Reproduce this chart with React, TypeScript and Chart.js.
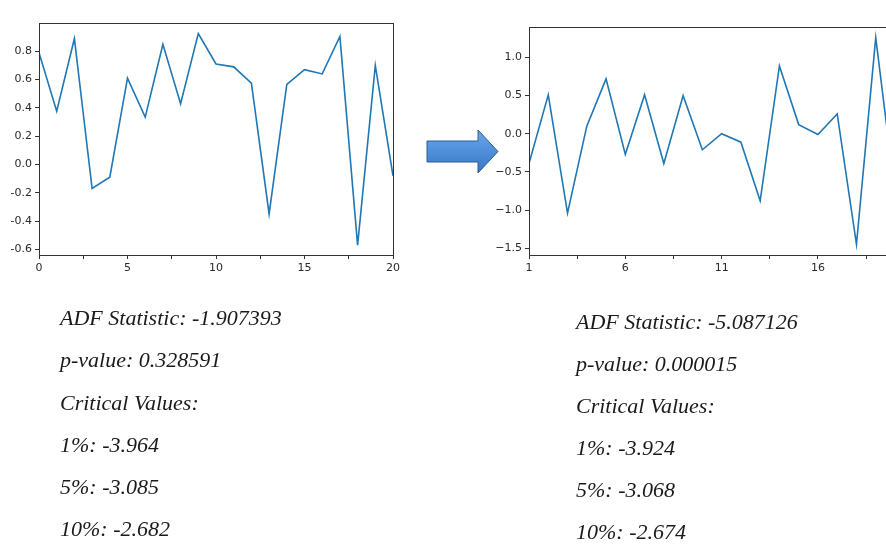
import React, { useEffect, useRef } from "react";
import { Chart, registerables } from "chart.js";

Chart.register(...registerables);

// ---- Data ----
const leftX = [0, 1, 2, 3, 4, 5, 6, 7, 8, 9, 10, 11, 12, 13, 14, 15, 16, 17, 18, 19, 20];
const leftY = [0.79, 0.377, 0.89, -0.17, -0.09, 0.61, 0.335, 0.85, 0.43, 0.925, 0.71, 0.69, 0.575, -0.35, 0.566, 0.67, 0.64, 0.905, -0.57, 0.7, -0.08];
const leftXTicks = [0, 2.5, 5, 7.5, 10, 12.5, 15, 17.5, 20];
const leftXLabels = [0, 5, 10, 15, 20];
const leftYTicks = [-0.6, -0.4, -0.2, 0.0, 0.2, 0.4, 0.6, 0.8];

const rightX = [1, 2, 3, 4, 5, 6, 7, 8, 9, 10, 11, 12, 13, 14, 15, 16, 17, 18, 19, 20];
const rightY = [-0.39, 0.51, -1.04, 0.1, 0.72, -0.27, 0.51, -0.39, 0.5, -0.21, 0.0, -0.11, -0.88, 0.89, 0.12, -0.01, 0.26, -1.45, 1.26, -0.78];
const rightXTicks = [1, 3.5, 6, 8.5, 11, 13.5, 16, 18.5];
const rightXLabels = [1, 6, 11, 16];
const rightYTicks = [-1.5, -1.0, -0.5, 0.0, 0.5, 1.0];

const leftStats = [
  "ADF Statistic: -1.907393",
  "p-value: 0.328591",
  "Critical Values:",
  "1%: -3.964",
  "5%: -3.085",
  "10%: -2.682",
];
const rightStats = [
  "ADF Statistic: -5.087126",
  "p-value: 0.000015",
  "Critical Values:",
  "1%: -3.924",
  "5%: -3.068",
  "10%: -2.674",
];

const frame = {
  id: "frame",
  afterDatasetsDraw(chart: any) {
    const { ctx, chartArea } = chart;
    ctx.save();
    ctx.strokeStyle = "#333";
    ctx.lineWidth = 1;
    ctx.strokeRect(
      Math.round(chartArea.left) + 0.5,
      Math.round(chartArea.top) + 0.5,
      Math.round(chartArea.right - chartArea.left),
      Math.round(chartArea.bottom - chartArea.top)
    );
    ctx.restore();
  },
};

type Props = {
  xs: number[];
  ys: number[];
  xTicks: number[];
  xLabels: number[];
  yTicks: number[];
  xMin: number;
  xMax: number;
  yMin: number;
  yMax: number;
  unicodeMinus: boolean;
  width: number;
  height: number;
  padTop: number;
  padRight: number;
  style: React.CSSProperties;
};

function LineChart(p: Props) {
  const ref = useRef<HTMLCanvasElement | null>(null);
  useEffect(() => {
    if (!ref.current) return;
    const font = { family: "DejaVu Sans", size: 11 };
    const chart = new Chart(ref.current, {
      type: "line",
      data: {
        datasets: [
          {
            data: p.xs.map((x, i) => ({ x, y: p.ys[i] })),
            borderColor: "#1f77b4",
            borderWidth: 1.6,
            pointRadius: 0,
            tension: 0,
            fill: false,
          },
        ],
      },
      options: {
        animation: false,
        responsive: false,
        events: [],
        layout: { padding: { top: p.padTop, right: p.padRight, left: 0, bottom: 0 } },
        plugins: { legend: { display: false }, tooltip: { enabled: false } },
        scales: {
          x: {
            type: "linear",
            min: p.xMin,
            max: p.xMax,
            afterBuildTicks: (axis: any) => {
              axis.ticks = p.xTicks.map((v) => ({ value: v }));
            },
            afterFit: (axis: any) => {
              axis.height = 25;
            },
            ticks: {
              autoSkip: false,
              maxRotation: 0,
              padding: 3,
              color: "#2a2a2a",
              font,
              callback: (v: any) => (p.xLabels.includes(Number(v)) ? String(v) : ""),
            },
            grid: { drawOnChartArea: false, drawTicks: true, tickLength: 4, tickColor: "#333" },
            border: { display: false },
          },
          y: {
            type: "linear",
            min: p.yMin,
            max: p.yMax,
            afterBuildTicks: (axis: any) => {
              axis.ticks = p.yTicks.map((v) => ({ value: v }));
            },
            afterFit: (axis: any) => {
              axis.width = 39;
            },
            ticks: {
              autoSkip: false,
              padding: 3,
              color: "#2a2a2a",
              font,
              callback: (v: any) => {
                const s = Number(v).toFixed(1);
                return p.unicodeMinus ? s.replace("-", "\u2212") : s;
              },
            },
            grid: { drawOnChartArea: false, drawTicks: true, tickLength: 4, tickColor: "#333" },
            border: { display: false },
          },
        },
      },
      plugins: [frame],
    } as any);
    return () => chart.destroy();
  }, []);
  return (
    <canvas
      ref={ref}
      width={p.width}
      height={p.height}
      style={{ position: "absolute", width: p.width, height: p.height, ...p.style }}
    />
  );
}

function Stats({ lines, left, top, lineHeight }: { lines: string[]; left: number; top: number; lineHeight: number }) {
  return (
    <div
      style={{
        position: "absolute",
        left,
        top,
        fontFamily: "'Liberation Serif', 'Times New Roman', serif",
        fontStyle: "italic",
        fontSize: 22,
        lineHeight: lineHeight + "px",
        color: "#1a1a1a",
        whiteSpace: "nowrap",
      }}
    >
      {lines.map((l, i) => (
        <div key={i}>{l}</div>
      ))}
    </div>
  );
}

export default function App() {
  return (
    <div
      style={{
        position: "fixed",
        left: 0,
        top: 0,
        width: 886,
        height: 550,
        overflow: "hidden",
        background: "#ffffff",
      }}
    >
      <LineChart
        xs={leftX}
        ys={leftY}
        xTicks={leftXTicks}
        xLabels={leftXLabels}
        yTicks={leftYTicks}
        xMin={0}
        xMax={20}
        yMin={-0.64}
        yMax={1.0}
        unicodeMinus={false}
        width={403}
        height={280}
        padTop={23}
        padRight={9}
        style={{ left: 0, top: 0 }}
      />
      <LineChart
        xs={rightX}
        ys={rightY}
        xTicks={rightXTicks}
        xLabels={rightXLabels}
        yTicks={rightYTicks}
        xMin={1}
        xMax={20}
        yMin={-1.59}
        yMax={1.4}
        unicodeMinus={true}
        width={415}
        height={280}
        padTop={27}
        padRight={10}
        style={{ left: 490, top: 0 }}
      />
      <svg width={886} height={550} style={{ position: "absolute", left: 0, top: 0, pointerEvents: "none" }}>
        <defs>
          <linearGradient id="arrowGrad" x1="0" y1="0" x2="0" y2="1">
            <stop offset="0%" stopColor="#6aa8ea" />
            <stop offset="100%" stopColor="#3576c6" />
          </linearGradient>
        </defs>
        <polygon
          points="427,141 478,141 478,130 498,151.5 478,173 478,162 427,162"
          fill="url(#arrowGrad)"
          stroke="#2c5d8f"
          strokeWidth={1}
        />
      </svg>
      <Stats lines={leftStats} left={60} top={297} lineHeight={42.3} />
      <Stats lines={rightStats} left={576} top={301} lineHeight={42} />
    </div>
  );
}
